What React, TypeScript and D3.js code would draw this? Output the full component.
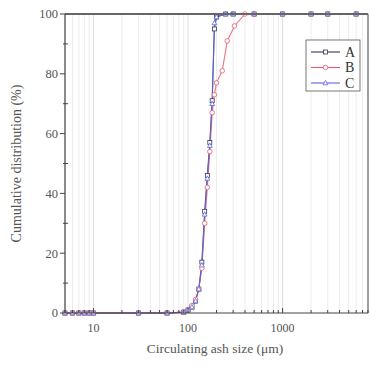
import * as d3 from "d3";

// particle sizes (μm) and cumulative distribution (%)
const sizesAC = [5, 6, 7, 8, 9, 10, 30, 60, 90, 100, 110, 120, 130, 140, 150, 160, 170, 180, 190, 200, 250, 300, 500, 1000, 2000, 3000, 6000];
const valuesA = [0, 0, 0, 0, 0, 0, 0, 0, 0.3, 1, 2, 4, 8, 17, 34, 46, 57, 71, 95, 99, 100, 100, 100, 100, 100, 100, 100];
const valuesC = [0, 0, 0, 0, 0, 0, 0, 0, 0.3, 1, 2, 4, 8, 16, 33, 45, 56, 70, 97, 99, 100, 100, 100, 100, 100, 100, 100];
const sizesB = [5, 6, 7, 8, 9, 10, 30, 60, 90, 100, 110, 120, 130, 140, 150, 160, 170, 180, 190, 200, 230, 260, 310, 400, 500, 1000, 2000, 3000, 6000];
const valuesB = [0, 0, 0, 0, 0, 0, 0, 0, 0.3, 1, 2.5, 4.5, 8, 15, 30, 42, 54, 67, 73, 77, 81, 91, 96, 100, 100, 100, 100, 100, 100];

const seriesNames = ["A", "B", "C"];
const yTicks = [0, 20, 40, 60, 80, 100];
const xTicks = [10, 100, 1000];

const W = 370;
const H = 367;
const margin = { top: 14, right: 2, bottom: 54, left: 65 };

const colors: Record<string, string> = { A: "#33335e", B: "#e85a70", C: "#5a66dc" };
const font = "'Liberation Serif', 'DejaVu Serif', serif";

function Marker({ name, x, y }: { name: string; x: number; y: number }) {
  const c = colors[name];
  if (name === "A") {
    return <rect x={x - 2} y={y - 2} width={4} height={4} fill="white" stroke={c} strokeWidth={0.8} />;
  }
  if (name === "B") {
    return <circle cx={x} cy={y} r={2.3} fill="white" stroke={c} strokeWidth={0.8} />;
  }
  return <path d={`M${x},${y - 2.6}L${x + 2.4},${y + 1.8}L${x - 2.4},${y + 1.8}Z`} fill="white" stroke={c} strokeWidth={0.8} />;
}

export default function App() {
  const x = d3.scaleLog().domain([5, 8000]).range([margin.left, W - margin.right]);
  const y = d3.scaleLinear().domain([0, 100]).range([H - margin.bottom, margin.top]);

  const series = [
    { name: "A", xs: sizesAC, ys: valuesA },
    { name: "B", xs: sizesB, ys: valuesB },
    { name: "C", xs: sizesAC, ys: valuesC },
  ];

  const line = d3
    .line<[number, number]>()
    .x(d => x(d[0]))
    .y(d => y(d[1]));

  // minor positions 1..9 × decade inside the domain
  const minor: number[] = [];
  for (const dec of [1, 10, 100, 1000]) {
    for (let k = 1; k <= 9; k++) {
      const v = dec * k;
      if (v >= 5 && v <= 8000) minor.push(v);
    }
  }
  const yMinor = d3.range(10, 100, 20);

  const x0 = margin.left;
  const x1 = W - margin.right;
  const y0 = H - margin.bottom;
  const y1 = margin.top;

  const lgX = 306;
  const lgY = 40;

  return (
    <svg width={W} height={H} style={{ position: "absolute", left: 0, top: 0, background: "white" }} fontFamily={font}>
      {/* vertical grid */}
      {minor.map(v => (
        <line key={"g" + v} x1={x(v)} x2={x(v)} y1={y1} y2={y0} stroke={xTicks.includes(v) ? "#dcdcdc" : "#ececec"} strokeWidth={1} />
      ))}

      {/* series */}
      {series.map(s => (
        <path key={s.name} d={line(s.xs.map((v, i) => [v, s.ys[i]] as [number, number])) ?? ""} fill="none" stroke={colors[s.name]} strokeWidth={1.1} opacity={0.85} />
      ))}
      {series.map(s =>
        s.xs.map((v, i) => <Marker key={s.name + i} name={s.name} x={x(v)} y={y(s.ys[i])} />)
      )}

      {/* frame */}
      <line x1={x0} x2={x1} y1={y1} y2={y1} stroke="#666" strokeWidth={1.8} />
      <line x1={x1} x2={x1} y1={y1} y2={y0} stroke="#666" strokeWidth={1.2} />
      <line x1={x0} x2={x0} y1={y1} y2={y0} stroke="#444" strokeWidth={1.2} />
      <line x1={x0} x2={x1} y1={y0} y2={y0} stroke="#444" strokeWidth={1.2} />

      {/* y ticks */}
      {yTicks.map(t => (
        <g key={"yt" + t}>
          <line x1={x0 - 5} x2={x0} y1={y(t)} y2={y(t)} stroke="#444" strokeWidth={1} />
          <text x={x0 - 7} y={y(t)} dy="0.35em" textAnchor="end" fontSize={12.5} fill="#555">{t}</text>
        </g>
      ))}
      {yMinor.map(t => (
        <line key={"ym" + t} x1={x0 - 2} x2={x0 + 3} y1={y(t)} y2={y(t)} stroke="#444" strokeWidth={1} />
      ))}

      {/* x ticks */}
      {minor.map(v => (
        <line key={"xm" + v} x1={x(v)} x2={x(v)} y1={y0} y2={y0 - (xTicks.includes(v) ? 5 : 3)} stroke="#444" strokeWidth={1} />
      ))}
      {xTicks.map(t => (
        <text key={"xt" + t} x={x(t)} y={y0 + 19} textAnchor="middle" fontSize={12} fill="#555">{t}</text>
      ))}

      {/* axis titles */}
      <text x={215} y={353} textAnchor="middle" fontSize={13.5} fill="#555">Circulating ash size (μm)</text>
      <text transform={`translate(21,${(y0 + y1) / 2}) rotate(-90)`} textAnchor="middle" fontSize={14} fill="#555">Cumulative distribution (%)</text>

      {/* legend */}
      <rect x={lgX} y={lgY} width={54} height={51} fill="white" stroke="#555" strokeWidth={0.8} />
      {seriesNames.map((n, i) => {
        const ly = lgY + 12 + i * 15.5;
        return (
          <g key={"lg" + n}>
            <line x1={lgX + 5} x2={lgX + 34} y1={ly} y2={ly} stroke={colors[n]} strokeWidth={1.1} />
            <Marker name={n} x={lgX + 19.5} y={ly} />
            <text x={lgX + 39} y={ly} dy="0.35em" fontSize={14} fill="#333">{n}</text>
          </g>
        );
      })}
    </svg>
  );
}
